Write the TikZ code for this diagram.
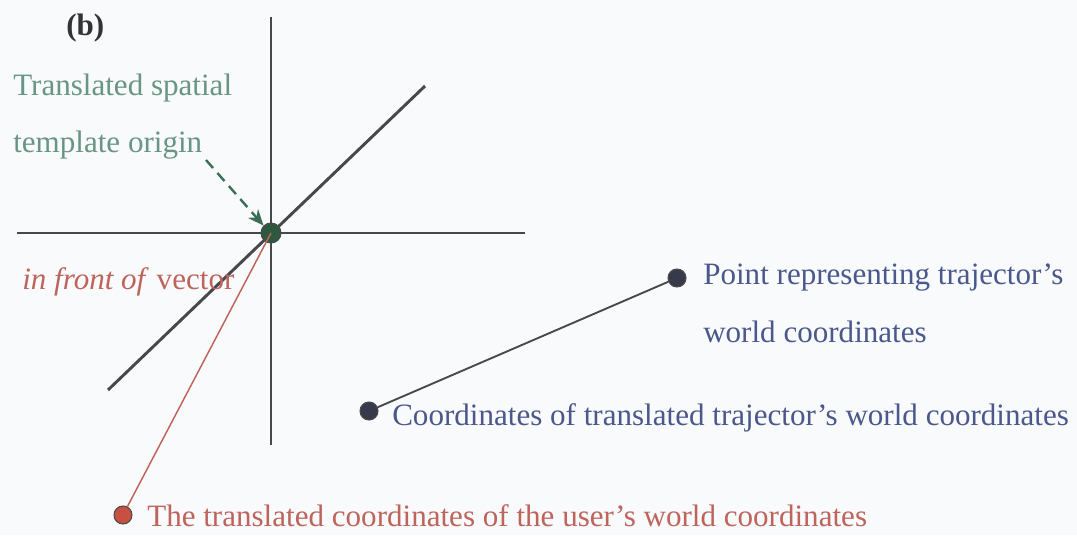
\documentclass[tikz,border=0pt]{standalone}
\usepackage{fontspec}
\setmainfont{Liberation Serif}
\usetikzlibrary{arrows.meta}
\definecolor{bgc}{RGB}{248,250,251}
\definecolor{axc}{RGB}{72,72,76}
\definecolor{grn}{RGB}{105,150,130}
\definecolor{grnarr}{RGB}{60,110,85}
\definecolor{redc}{RGB}{190,100,92}
\definecolor{redd}{RGB}{200,80,65}
\definecolor{bluec}{RGB}{75,88,140}
\definecolor{dotc}{RGB}{55,58,75}
\begin{document}
\begin{tikzpicture}[x=0.75pt,y=-0.75pt,
  axis/.style={draw=axc,line width=2.2pt},
  lbl/.style={anchor=west,inner sep=0pt,font=\fontsize{23.3}{28}\selectfont},
  dotn/.style={circle,minimum size=13.5pt,inner sep=0pt,draw=black!70,line width=0.8pt}]
\fill[bgc] (0,0) rectangle (1077,535);
\useasboundingbox (0,0) rectangle (1077,535);
% axes
\coordinate (vt) at (271,17); \coordinate (vb) at (271,445);
\coordinate (hl) at (17,233); \coordinate (hr) at (525,233);
\coordinate (dl) at (108,390); \coordinate (dr) at (425,86);
\draw[axis] (vt) -- (vb);
\draw[axis] (hl) -- (hr);
\draw[axis] (dl) -- (dr);
% origin
\node[dotn,minimum size=15pt,fill=dotc!85!green] (o) at (271,233) {};
% red vector
\node[dotn,fill=redd] (u) at (123,515) {};
\draw[redc,line width=1.1pt] (o.center) -- (u);
% blue points
\node[dotn,fill=dotc] (p) at (677,278) {};
\node[dotn,fill=dotc] (q) at (369,411) {};
\draw[axc,line width=1.4pt] (p) -- (q);
% labels
\node[anchor=west,inner sep=0pt,font=\fontsize{23.3}{28}\selectfont\bfseries,text=black!80] (b) at (66,28) {(b)};
\node[lbl,text=grn] (t1) at (13,88) {Translated spatial};
\node[lbl,text=grn] (t2) at (13,145) {template origin};
\coordinate (as) at (206,160);
\draw[grnarr,line width=1.8pt,dash pattern=on 8pt off 5pt,-{Stealth[length=12pt,width=10pt]}] (as) -- (o.north west);
\node[lbl,text=redc] (f) at (22,282) {\textit{in front of} vector};
\node[lbl,text=redc] (ut) at (147,516) {The translated coordinates of the user’s world coordinates};
\node[lbl,text=bluec] (pt1) at (703,278) {Point representing trajector’s};
\node[lbl,text=bluec] (pt2) at (703,332) {world coordinates};
\node[lbl,text=bluec] (qt) at (392,418) {Coordinates of translated trajector’s world coordinates};
\end{tikzpicture}
\end{document}
